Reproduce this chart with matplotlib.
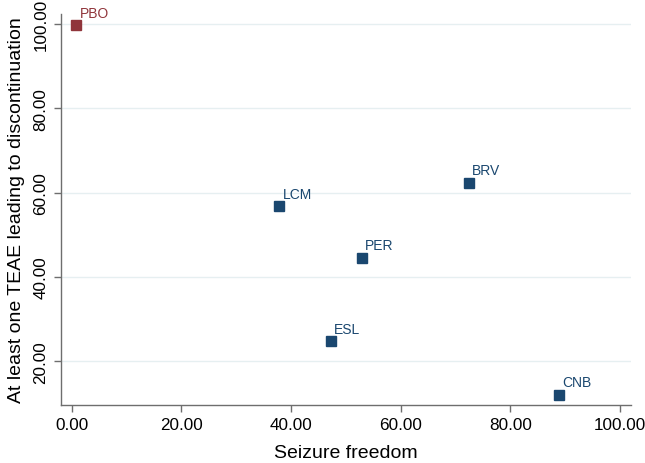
import matplotlib
matplotlib.use("Agg")
import matplotlib.pyplot as plt

plt.rcParams['font.family'] = ['Liberation Sans', 'DejaVu Sans']

treatments = ["PBO", "LCM", "BRV", "PER", "ESL", "CNB"]
seizure_freedom = [0.8, 37.8, 72.4, 52.9, 47.2, 88.8]
teae_discontinuation = [99.7, 56.8, 62.4, 44.5, 24.8, 12.0]
point_colors = ["#90353b", "#1a476f", "#1a476f", "#1a476f", "#1a476f", "#1a476f"]

x_ticks = [0, 20, 40, 60, 80, 100]
y_ticks = [20, 40, 60, 80, 100]

fig = plt.figure(figsize=(6.45, 4.64), dpi=100)
ax = fig.add_axes([61/645, 1 - 406/464, (631 - 61)/645, (406 - 15)/464])

for y in y_ticks:
    ax.axhline(y, color="#e6eff1", linewidth=1.0, zorder=0)

for name, xv, yv, c in zip(treatments, seizure_freedom, teae_discontinuation, point_colors):
    ax.plot(xv, yv, marker="s", markersize=7.2, color=c, linestyle="none", zorder=3)
    ax.annotate(name, (xv, yv), xytext=(2.5, 4), textcoords="offset points",
                fontsize=10, color=c, ha="left", va="bottom", annotation_clip=False)

ax.set_xlim(-1.95, 102.0)
ax.set_ylim(9.63, 102.4)
ax.set_xticks(x_ticks)
ax.set_xticklabels([f"{v:.2f}" for v in x_ticks])
ax.set_yticks(y_ticks)
ax.set_yticklabels([f"{v:.2f}" for v in y_ticks], rotation=90, va="center")

for s in ["top", "right"]:
    ax.spines[s].set_visible(False)
for s in ["left", "bottom"]:
    ax.spines[s].set_color("#6e6e6e")
    ax.spines[s].set_linewidth(1.0)
ax.tick_params(axis="both", colors="#6e6e6e", length=5, width=1.0, labelsize=12.3,
               labelcolor="black", pad=4)

ax.set_xlabel("Seizure freedom", fontsize=14, labelpad=8)
ax.set_ylabel("At least one TEAE leading to discontinuation", fontsize=14, labelpad=6)

fig.savefig("out.png", dpi=100)
